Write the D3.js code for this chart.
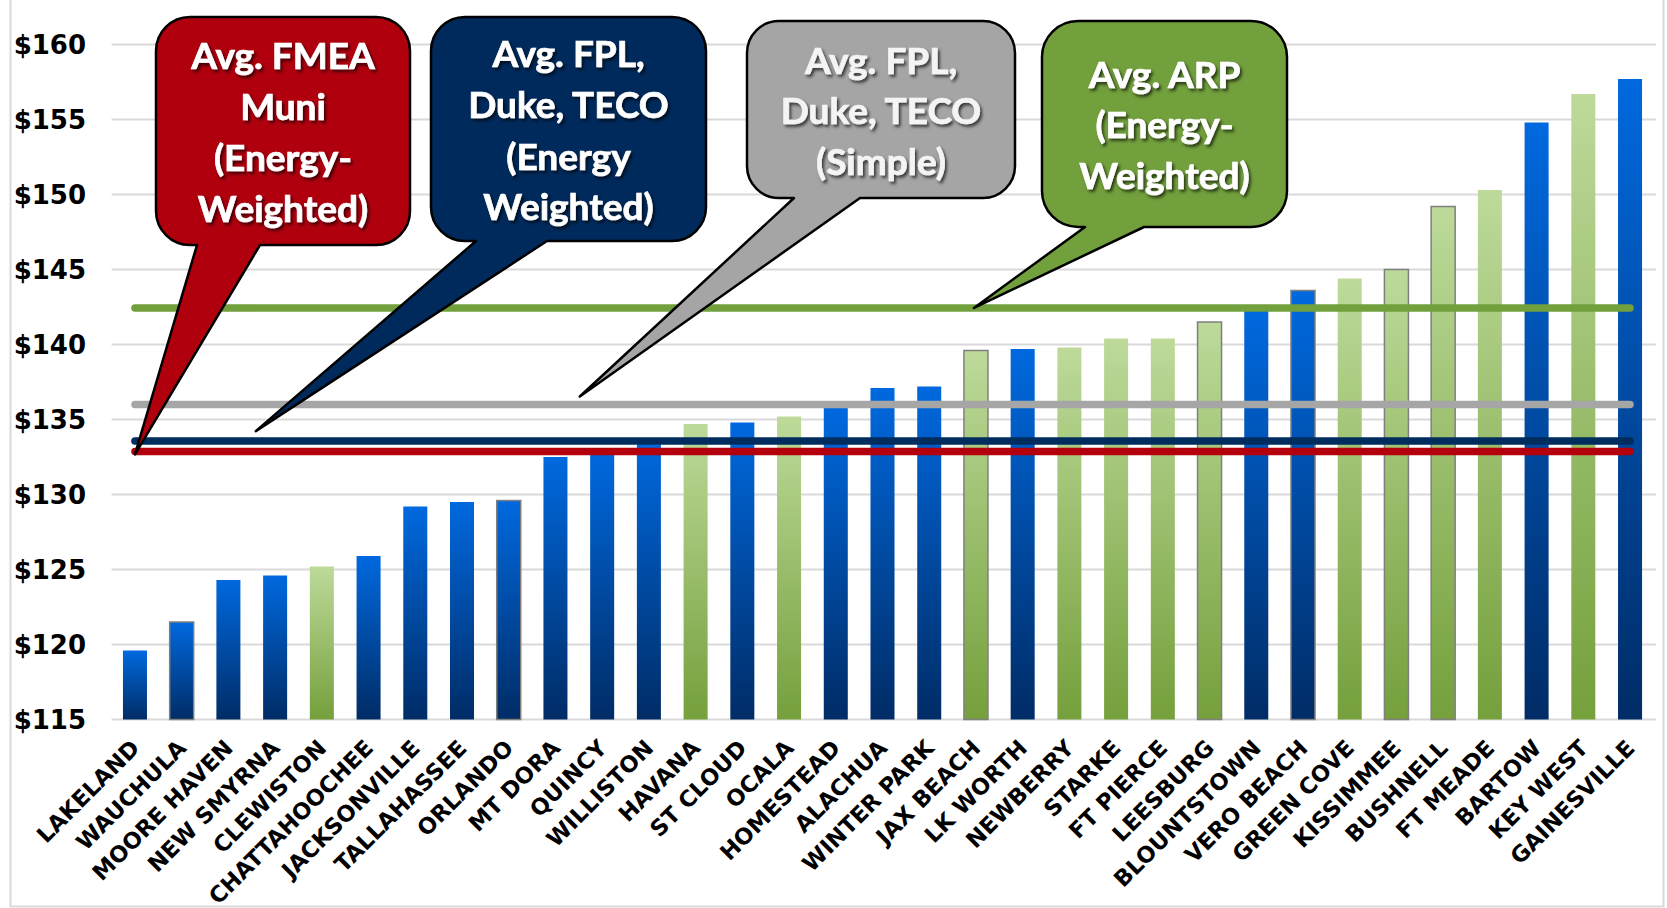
<!DOCTYPE html>
<html>
<head>
<meta charset="utf-8">
<script src="https://cdn.jsdelivr.net/npm/d3@7"></script>
<style>
  html, body { margin: 0; padding: 0; background: #ffffff; }
  svg { display: block; }
</style>
</head>
<body>
<svg id="chart" width="1667" height="908"></svg>
<script>
// ---------------- DATA ----------------
const categories = ["LAKELAND","WAUCHULA","MOORE HAVEN","NEW SMYRNA","CLEWISTON","CHATTAHOOCHEE",
  "JACKSONVILLE","TALLAHASSEE","ORLANDO","MT DORA","QUINCY","WILLISTON","HAVANA","ST CLOUD","OCALA",
  "HOMESTEAD","ALACHUA","WINTER PARK","JAX BEACH","LK WORTH","NEWBERRY","STARKE","FT PIERCE",
  "LEESBURG","BLOUNTSTOWN","VERO BEACH","GREEN COVE","KISSIMMEE","BUSHNELL","FT MEADE","BARTOW",
  "KEY WEST","GAINESVILLE"];
const values = [119.6, 121.5, 124.3, 124.6, 125.2, 125.9, 129.2, 129.5, 129.6, 132.5, 132.8, 133.5,
  134.7, 134.8, 135.2, 135.8, 137.1, 137.2, 139.6, 139.7, 139.8, 140.4, 140.4, 141.5, 142.3, 143.6,
  144.4, 145.0, 149.2, 150.3, 154.8, 156.7, 157.7];
const groups = ["Other","Other","Other","Other","ARP","Other","Other","Other","Other","Other","Other",
  "Other","ARP","Other","ARP","Other","Other","Other","ARP","Other","ARP","ARP","ARP","ARP","Other",
  "Other","ARP","ARP","ARP","ARP","Other","ARP","Other"];
const outlined = ["WAUCHULA","ORLANDO","JAX BEACH","LEESBURG","KISSIMMEE","BUSHNELL","VERO BEACH"];
const yTicks = [115,120,125,130,135,140,145,150,155,160];
const avgNames = ["FMEA Muni EW","FPL Duke TECO EW","FPL Duke TECO Simple","ARP EW"];
const avgValues = [132.87, 133.56, 136.0, 142.44];
const avgLabels = [
  ["Avg. FMEA","Muni","(Energy-","Weighted)"],
  ["Avg. FPL,","Duke, TECO","(Energy","Weighted)"],
  ["Avg. FPL,","Duke, TECO","(Simple)"],
  ["Avg. ARP","(Energy-","Weighted)"]
];

// ---------------- LAYOUT / STYLE ----------------
const W = 1667, H = 908;
const svg = d3.select("#chart");
const defs = svg.append("defs");

const y = d3.scaleLinear().domain([115,160]).range([719.5, 44.5]);
const x = d3.scaleBand().domain(categories).range([111.6, 1653.4])
  .paddingInner(0.486).paddingOuter(0.243);
const cx = c => x(c) + x.bandwidth()/2;

const gBlue = defs.append("linearGradient").attr("id","gBlue").attr("x1",0).attr("y1",0).attr("x2",0).attr("y2",1);
gBlue.append("stop").attr("offset","0%").attr("stop-color","#0069DF");
gBlue.append("stop").attr("offset","100%").attr("stop-color","#002C66");
const gGreen = defs.append("linearGradient").attr("id","gGreen").attr("x1",0).attr("y1",0).attr("x2",0).attr("y2",1);
gGreen.append("stop").attr("offset","0%").attr("stop-color","#BDDA9A");
gGreen.append("stop").attr("offset","100%").attr("stop-color","#75A03C");

const shadow = defs.append("filter").attr("id","tshadow").attr("x","-20%").attr("y","-20%").attr("width","140%").attr("height","160%");
shadow.append("feDropShadow").attr("dx",2).attr("dy",2.5).attr("stdDeviation",1.6)
  .attr("flood-color","#000").attr("flood-opacity",0.65);

// outer border
svg.append("rect").attr("x",10.5).attr("y",-2).attr("width",1653).attr("height",908.5)
  .attr("fill","none").attr("stroke","#D9D9D9").attr("stroke-width",2);

// gridlines
svg.append("g").selectAll("line").data(yTicks).join("line")
  .attr("x1",111.6).attr("x2",1656).attr("y1",d=>y(d)).attr("y2",d=>y(d))
  .attr("stroke","#D9D9D9").attr("stroke-width",2.2);

// y axis labels
const yAxis = d3.axisLeft(y).tickValues(yTicks).tickSize(0).tickPadding(0).tickFormat(d => "$" + d);
const yg = svg.append("g").attr("transform","translate(86,0)").call(yAxis);
yg.select(".domain").remove();
yg.selectAll("text").attr("font-family","DejaVu Sans").attr("font-weight","bold")
  .attr("font-size",26).attr("fill","#000").attr("dy","0.36em");

// bars
svg.append("g").selectAll("rect").data(categories).join("rect")
  .attr("x", c => x(c))
  .attr("width", x.bandwidth())
  .attr("y", (c,i) => y(values[i]))
  .attr("height", (c,i) => y(115) - y(values[i]))
  .attr("fill", (c,i) => groups[i] === "ARP" ? "url(#gGreen)" : "url(#gBlue)")
  .attr("stroke", c => outlined.includes(c) ? "#7F7F7F" : "none")
  .attr("stroke-width", 1.5);

// x labels
const xAxis = d3.axisBottom(x).tickSize(0).tickPadding(0);
const xg = svg.append("g").attr("transform","translate(0,719.5)").call(xAxis);
xg.select(".domain").remove();
xg.selectAll("text")
  .attr("font-family","DejaVu Sans").attr("font-weight","bold").attr("font-size",22.5).attr("fill","#000")
  .attr("text-anchor","end").attr("y",0).attr("dy",0)
  .attr("transform","translate(6,30) rotate(-45)");

// average lines
const avgColors = ["#B4000D","#002C5E","#A6A6A6","#71A03C"];
const drawOrder = [2,3,1,0];
svg.append("g").selectAll("line").data(drawOrder).join("line")
  .attr("x1", cx(categories[0])).attr("x2", cx(categories[categories.length-1]))
  .attr("y1", i => y(avgValues[i])).attr("y2", i => y(avgValues[i]))
  .attr("stroke", i => avgColors[i]).attr("stroke-width", 7.5).attr("stroke-linecap","round");

// callouts
const boxes = [
  {x0:156, y0:17, x1:410, y1:245, r:34, bl:197, br:260, tip:[cx("LAKELAND"), y(avgValues[0])+3], tx:283, base:[68.5,120,171,221.5], fill:"#B0000E"},
  {x0:431, y0:17, x1:706, y1:241, r:34, bl:476, br:547, tip:[(cx("MOORE HAVEN")+cx("NEW SMYRNA"))/2+4, y(avgValues[1])-10], tx:568.5, base:[66.5,117.5,169.5,219.5], fill:"#002A5C"},
  {x0:747, y0:21, x1:1015, y1:198, r:32, bl:794, br:860, tip:[(cx("MT DORA")+cx("QUINCY"))/2+1, y(avgValues[2])-8], tx:881, base:[73.5,124,175], fill:"#A5A5A5"},
  {x0:1042, y0:21, x1:1287, y1:227, r:36, bl:1085, br:1144, tip:[cx("JAX BEACH")-2, y(avgValues[3])], tx:1164.5, base:[87.5,138,188.5], fill:"#72A03C"}
];
function calloutPath(b) {
  const {x0,y0,x1,y1,r,bl,br,tip} = b;
  return `M${x0+r},${y0} H${x1-r} A${r},${r} 0 0 1 ${x1},${y0+r} V${y1-r} A${r},${r} 0 0 1 ${x1-r},${y1}` +
         ` H${br} L${tip[0]},${tip[1]} L${bl},${y1} H${x0+r} A${r},${r} 0 0 1 ${x0},${y1-r} V${y0+r}` +
         ` A${r},${r} 0 0 1 ${x0+r},${y0} Z`;
}
const cg = svg.append("g").selectAll("g").data(boxes).join("g");
cg.append("path").attr("d", calloutPath).attr("fill", b => b.fill)
  .attr("stroke","#000").attr("stroke-width",2.5).attr("stroke-linejoin","round");
cg.each(function(b, i) {
  const fillC = i === 2 ? "#F4F4F4" : "#FFFFFF";
  d3.select(this).selectAll("text").data(avgLabels[i]).join("text")
    .attr("x", b.tx).attr("y", (t,j) => b.base[j])
    .attr("text-anchor","middle").attr("font-family","Lato").attr("font-weight","bold")
    .attr("font-size",37).attr("fill", fillC)
    .attr("stroke", fillC).attr("stroke-width", 0.7)
    .attr("filter","url(#tshadow)").text(t => t);
});
</script>
</body>
</html>
